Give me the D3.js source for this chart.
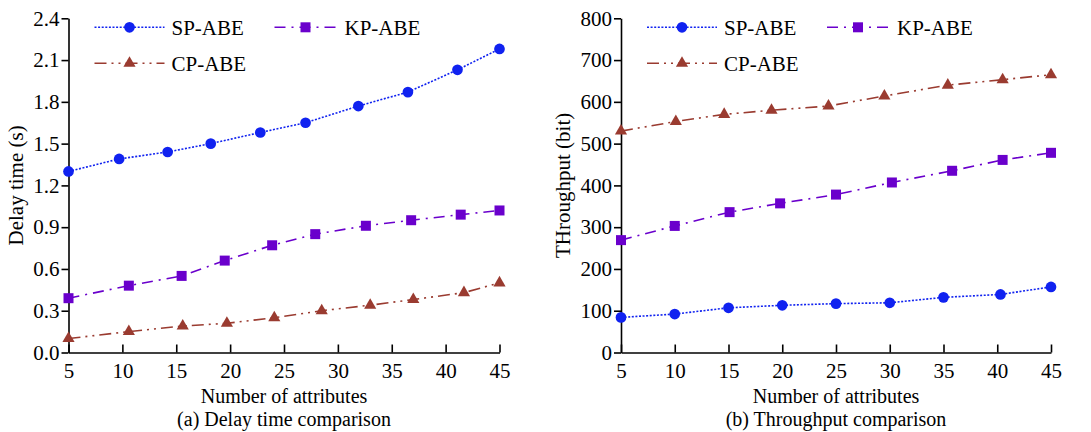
<!DOCTYPE html>
<html>
<head>
<meta charset="utf-8">
<script src="https://cdn.jsdelivr.net/npm/d3@7"></script>
<style>
  body { margin: 0; background: #fff; }
</style>
</head>
<body>
<svg id="chart" width="1091" height="432"></svg>
<script>
const FONT = '"Liberation Serif", "DejaVu Serif", "Times New Roman", Times, serif';

// number of attributes (x axis ticks)
const attrTicks = [5, 10, 15, 20, 25, 30, 35, 40, 45];

// (a) delay time - every series was sampled at slightly different x
const delaySpX = [5, 9.7, 14.2, 18.2, 22.8, 27.0, 31.9, 36.5, 41.1, 45];
const delaySp  = [1.30, 1.39, 1.44, 1.50, 1.58, 1.65, 1.77, 1.87, 2.03, 2.18];
const delayKpX = [5, 10.6, 15.5, 19.5, 23.9, 27.9, 32.6, 36.8, 41.4, 45];
const delayKp  = [0.39, 0.48, 0.55, 0.66, 0.77, 0.85, 0.91, 0.95, 0.99, 1.02];
const delayCpX = [5, 10.6, 15.6, 19.7, 24.1, 28.5, 33.0, 37.0, 41.7, 45];
const delayCp  = [0.10, 0.15, 0.19, 0.21, 0.25, 0.30, 0.34, 0.38, 0.43, 0.50];
const delayTicks = [0, 0.3, 0.6, 0.9, 1.2, 1.5, 1.8, 2.1, 2.4];

// (b) throughput
const thrSpX = [5, 10, 15, 20, 25, 30, 35, 40.3, 45];
const thrSp  = [84, 92, 107, 113, 117, 119, 132, 139, 157];
const thrKpX = [5, 10, 15.1, 19.8, 25, 30.2, 35.8, 40.5, 45];
const thrKp  = [269, 303, 336, 357, 378, 407, 435, 461, 478];
const thrCpX = [5, 10.1, 14.6, 19, 24.3, 29.5, 35.4, 40.5, 45];
const thrCp  = [530, 553, 570, 580, 590, 614, 640, 653, 665];
const thrTicks = [0, 100, 200, 300, 400, 500, 600, 700, 800];

const seriesNames = ['SP-ABE', 'KP-ABE', 'CP-ABE'];

const style = {
    'SP-ABE': {color: '#1022f0', dash: '2,1.6', symbol: d3.symbolCircle, size: 90},
    'KP-ABE': {color: '#6a00cc', dash: '11,6,2,6', symbol: d3.symbolSquare, size: 100},
    'CP-ABE': {color: '#9a3b30', dash: '12,5,2,5,2,5', symbol: d3.symbolTriangle, size: 64}
};

const svg = d3.select('#chart');

function drawPanel(cfg) {
    const x = d3.scaleLinear().domain([5, 45]).range(cfg.xRange);
    const y = d3.scaleLinear().domain(cfg.yDomain).range(cfg.yRange);
    const g = svg.append('g');

    // axes
    g.append('g')
        .attr('transform', `translate(0,${cfg.yRange[0]})`)
        .call(d3.axisBottom(x).tickValues(attrTicks).tickSizeInner(-8).tickSizeOuter(0).tickPadding(11));
    g.append('g')
        .attr('transform', `translate(${cfg.xRange[0]},0)`)
        .call(d3.axisLeft(y).tickValues(cfg.yTicks).tickFormat(cfg.yFormat).tickSizeInner(7).tickSizeOuter(0).tickPadding(2));
    g.selectAll('.domain, .tick line').attr('stroke', '#000').attr('stroke-width', 1.6);

    const midX = (cfg.xRange[0] + cfg.xRange[1]) / 2;
    const midY = (cfg.yRange[0] + cfg.yRange[1]) / 2;

    g.append('text').attr('class', 'xt').attr('x', midX).attr('y', 403).attr('text-anchor', 'middle').text('Number of attributes');
    g.append('text').attr('class', 'xt').attr('x', midX).attr('y', 426).attr('text-anchor', 'middle').text(cfg.caption);
    g.append('text')
        .attr('transform', `translate(${cfg.yTitleX},${midY}) rotate(-90)`)
        .attr('text-anchor', 'middle').attr('dy', '0.35em')
        .text(cfg.yTitle);

    // lines + markers
    const line = d3.line().x(d => x(d[0])).y(d => y(d[1]));
    cfg.series.forEach(s => {
        const st = style[s.name];
        const pts = d3.zip(s.xs, s.ys);
        g.append('path').datum(pts)
            .attr('d', line)
            .attr('fill', 'none')
            .attr('stroke', st.color)
            .attr('stroke-width', 1.6)
            .attr('stroke-dasharray', st.dash);
        g.append('g').selectAll('path')
            .data(pts)
            .join('path')
                .attr('transform', d => `translate(${x(d[0])},${y(d[1])})`)
                .attr('d', d3.symbol().type(st.symbol).size(st.size))
                .attr('fill', st.color);
    });

    // legend
    const left = cfg.xRange[0], top = cfg.yRange[1];
    const legendPos = {
        'SP-ABE': {x: left + 26, y: top + 9, w: 70, tx: left + 103},
        'KP-ABE': {x: left + 206, y: top + 9, w: 62, tx: left + 276},
        'CP-ABE': {x: left + 26, y: top + 45, w: 70, tx: left + 103}
    };
    seriesNames.forEach(name => {
        const st = style[name], p = legendPos[name];
        g.append('line')
            .attr('x1', p.x).attr('x2', p.x + p.w)
            .attr('y1', p.y).attr('y2', p.y)
            .attr('stroke', st.color).attr('stroke-width', 1.6)
            .attr('stroke-dasharray', st.dash);
        g.append('path')
            .attr('transform', `translate(${p.x + p.w / 2},${p.y})`)
            .attr('d', d3.symbol().type(st.symbol).size(st.size))
            .attr('fill', st.color);
        g.append('text').attr('x', p.tx).attr('y', p.y).attr('dy', '0.35em').text(name);
    });
}

drawPanel({
    xRange: [68.5, 499.5],
    yRange: [352.5, 18.3],
    yDomain: [0, 2.4],
    yTicks: delayTicks,
    yFormat: d3.format('.1f'),
    yTitle: 'Delay time (s)',
    yTitleX: 16,
    caption: '(a) Delay time comparison',
    series: [
        {name: 'SP-ABE', xs: delaySpX, ys: delaySp},
        {name: 'KP-ABE', xs: delayKpX, ys: delayKp},
        {name: 'CP-ABE', xs: delayCpX, ys: delayCp}
    ]
});

drawPanel({
    xRange: [621, 1051],
    yRange: [352.5, 18.3],
    yDomain: [0, 800],
    yTicks: thrTicks,
    yFormat: d3.format('d'),
    yTitle: 'THroughput (bit)',
    yTitleX: 563,
    caption: '(b) Throughput comparison',
    series: [
        {name: 'SP-ABE', xs: thrSpX, ys: thrSp},
        {name: 'KP-ABE', xs: thrKpX, ys: thrKp},
        {name: 'CP-ABE', xs: thrCpX, ys: thrCp}
    ]
});

// serif everywhere, overriding the axis defaults
svg.selectAll('g').attr('font-family', null).attr('font-size', null);
svg.selectAll('text')
    .style('font-family', FONT)
    .style('font-size', '21px')
    .style('fill', '#000');
svg.selectAll('text.xt').style('font-size', '20px');
</script>
</body>
</html>
